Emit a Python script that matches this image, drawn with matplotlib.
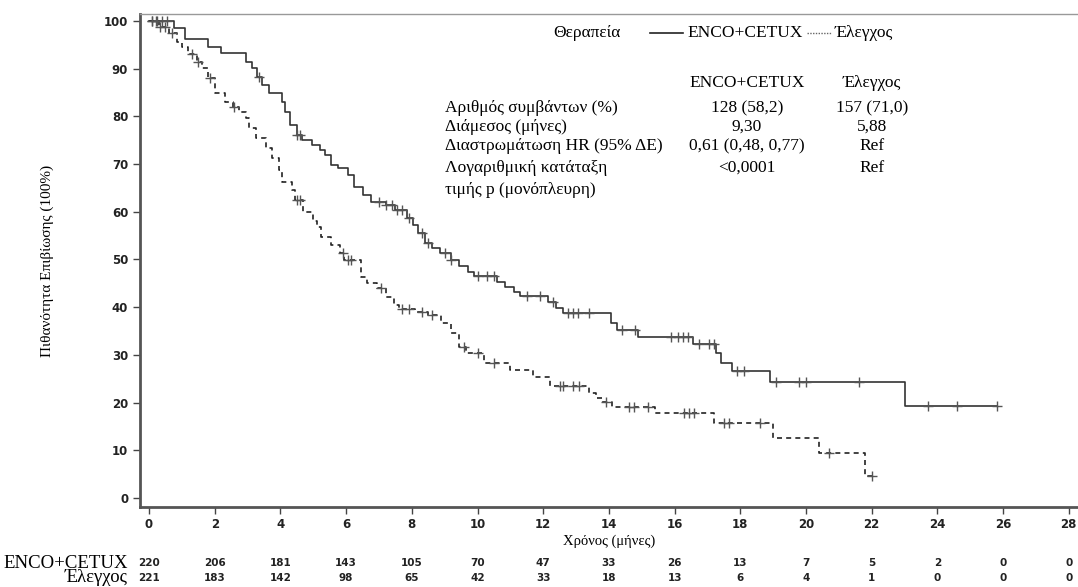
import matplotlib
matplotlib.use("Agg")
import matplotlib.pyplot as plt
from matplotlib.lines import Line2D
import numpy as np

# Kaplan-Meier steps (time in months, survival %)
ENCO_T = [0, 0.75, 1.1, 1.8, 2.2, 2.95, 3.15, 3.3, 3.45, 3.65, 4.05, 4.15, 4.3, 4.5,
          4.65, 4.95, 5.2, 5.35, 5.55, 5.75, 6.05, 6.25, 6.5, 6.75, 7.2, 7.5, 7.85,
          8.05, 8.2, 8.4, 8.6, 8.85, 9.2, 9.45, 9.7, 9.9, 10.6, 10.85, 11.1, 11.3,
          12.15, 12.4, 12.6, 14.05, 14.25, 14.9, 16.55, 17.25, 17.4, 17.75, 18.9,
          23.0, 25.8]
ENCO_S = [100, 98.5, 96.2, 94.5, 93.3, 91.4, 90.1, 88.3, 86.6, 84.9, 83.0, 80.9,
          78.2, 76.1, 75.0, 74.0, 73.0, 71.9, 69.8, 69.2, 67.7, 65.2, 63.5, 62.0,
          61.4, 60.4, 58.7, 57.2, 55.6, 53.5, 52.4, 51.4, 49.9, 48.6, 47.4, 46.5,
          45.3, 44.2, 43.2, 42.4, 41.1, 39.8, 38.8, 36.7, 35.2, 33.8, 32.3, 30.5,
          28.3, 26.6, 24.3, 19.3, 19.3]
ENCO_CENS = [0.1, 0.25, 0.4, 0.55, 3.35, 4.5, 4.6, 7.0, 7.2, 7.4, 7.55, 7.7, 7.9,
             8.3, 8.5, 9.0, 9.2, 10.0, 10.3, 10.5, 11.5, 11.9, 12.3, 12.75, 12.9,
             13.05, 13.4, 14.4, 14.8, 15.9, 16.1, 16.25, 16.4, 16.75, 17.05, 17.2,
             17.9, 18.1, 19.1, 19.8, 20.0, 21.6, 23.7, 24.6, 25.8]

CTRL_T = [0, 0.3, 0.6, 0.85, 1.0, 1.2, 1.45, 1.6, 1.8, 2.0, 2.3, 2.55, 2.75, 2.95,
          3.05, 3.25, 3.55, 3.75, 3.95, 4.05, 4.35, 4.45, 4.7, 5.0, 5.1, 5.25, 5.55,
          5.8, 5.95, 6.45, 6.65, 6.95, 7.2, 7.45, 7.6, 8.1, 8.5, 8.9, 9.2, 9.45,
          9.65, 10.2, 11.0, 11.7, 12.2, 13.4, 13.6, 13.8, 14.1, 15.4, 17.2, 19.0,
          20.4, 21.8, 22.0]
CTRL_S = [100, 98.8, 97.5, 95.5, 94.5, 93.0, 91.4, 90.1, 88.0, 85.0, 83.0, 82.0,
          81.0, 79.7, 77.6, 75.5, 73.4, 71.3, 68.8, 66.2, 64.6, 62.5, 60.0, 58.0,
          56.8, 54.7, 53.0, 51.4, 49.8, 46.3, 45.0, 44.0, 42.1, 40.5, 39.6, 39.0,
          38.4, 36.7, 34.6, 31.7, 30.4, 28.3, 26.8, 25.3, 23.5, 22.0, 21.0, 20.1,
          19.1, 17.8, 15.7, 12.6, 9.4, 4.6, 4.6]
CTRL_CENS = [0.1, 0.2, 0.35, 0.5, 0.7, 1.3, 1.5, 1.85, 2.6, 4.5, 4.6, 5.9, 6.05,
             6.15, 7.05, 7.7, 7.9, 8.3, 8.6, 9.6, 10.0, 10.5, 12.5, 12.6, 12.9,
             13.1, 13.9, 14.6, 14.75, 15.2, 16.3, 16.45, 16.6, 17.5, 17.65, 18.6,
             20.7, 22.0]

RISK_TIMES = list(range(0, 29, 2))
RISK_ENCO = [220, 206, 181, 143, 105, 70, 47, 33, 26, 13, 7, 5, 2, 0, 0]
RISK_CTRL = [221, 183, 142, 98, 65, 42, 33, 18, 13, 6, 4, 1, 0, 0, 0]

TABLE_ROWS = ['Αριθμός συμβάντων (%)', 'Διάμεσος (μήνες)',
              'Διαστρωμάτωση HR (95% ΔΕ)', 'Λογαριθμική κατάταξη']
TABLE_ENCO = ['128 (58,2)', '9,30', '0,61 (0,48, 0,77)', '<0,0001']
TABLE_CTRL = ['157 (71,0)', '5,88', 'Ref', 'Ref']

W, H = 1078, 587
SERIF = ['Liberation Serif', 'DejaVu Serif']
FS = 12.5


def step_value(t, ts, ss):
    idx = np.searchsorted(ts, t, side='right') - 1
    return np.array(ss)[idx]


def fx(px):
    return px / W


def fy(py):
    return 1 - py / H


fig = plt.figure(figsize=(W / 100, H / 100), dpi=100)
ax = fig.add_axes([fx(140), fy(507), fx(1078) - fx(140), fy(14) - fy(507)])

ax.plot(ENCO_T, ENCO_S, drawstyle='steps-post', color='#333333', lw=1.2)
ax.plot(CTRL_T, CTRL_S, drawstyle='steps-post', color='#222222', lw=1.2,
        dashes=(3, 2.5))
ax.plot(ENCO_CENS, step_value(ENCO_CENS, ENCO_T, ENCO_S), '+', color='#555555',
        ms=7, mew=1)
ax.plot(CTRL_CENS, step_value(CTRL_CENS, CTRL_T, CTRL_S), '+', color='#555555',
        ms=7, mew=1)

ax.set_xlim(-0.274, 28.28)
ax.set_ylim(-1.89, 101.47)
ax.set_xticks(RISK_TIMES)
ax.set_yticks(range(0, 101, 10))
ax.tick_params(direction='out', length=5, width=1, color='#444444',
               labelsize=8.5, labelcolor='#222222')
for lab in ax.get_xticklabels() + ax.get_yticklabels():
    lab.set_fontweight('bold')
ax.tick_params(axis='x', pad=3)

for side in ['left', 'bottom']:
    ax.spines[side].set_linewidth(2)
    ax.spines[side].set_color('#555555')
ax.spines['top'].set_linewidth(1)
ax.spines['top'].set_color('#999999')
ax.spines['right'].set_visible(False)

ax.set_ylabel('Πιθανότητα Επιβίωσης (100%)', family=SERIF, fontsize=11,
              labelpad=36)
ax.text(0.5, -0.07, 'Χρόνος (μήνες)', transform=ax.transAxes, ha='center',
        va='center', family=SERIF, fontsize=10.5)

# number at risk
trans = ax.get_xaxis_transform()
for t, a, b in zip(RISK_TIMES, RISK_ENCO, RISK_CTRL):
    ax.text(t, -0.1136, str(a), transform=trans, ha='center', va='center',
            fontsize=7.5, fontweight='bold', color='#222222')
    ax.text(t, -0.144, str(b), transform=trans, ha='center', va='center',
            fontsize=7.5, fontweight='bold', color='#222222')
fig.text(fx(128), fy(563), 'ENCO+CETUX', ha='right', va='center', family=SERIF,
         fontsize=13.5)
fig.text(fx(128), fy(578), 'Έλεγχος', ha='right', va='center', family=SERIF,
         fontsize=13.5)

# legend
fig.text(fx(553), fy(33), 'Θεραπεία', ha='left', va='center', family=SERIF,
         fontsize=FS)
fig.add_artist(Line2D([fx(650), fx(683)], [fy(33), fy(33)], color='#222222',
                      lw=1.2))
fig.text(fx(687), fy(33), 'ENCO+CETUX', ha='left', va='center', family=SERIF,
         fontsize=FS)
fig.add_artist(Line2D([fx(807), fx(832)], [fy(33), fy(33)], color='#666666',
                      lw=1, dashes=(1, 1)))
fig.text(fx(835), fy(33), 'Έλεγχος', ha='left', va='center', family=SERIF,
         fontsize=FS)

# summary table
fig.text(fx(747), fy(83), 'ENCO+CETUX', ha='center', va='center', family=SERIF,
         fontsize=FS)
fig.text(fx(872), fy(83), 'Έλεγχος', ha='center', va='center', family=SERIF,
         fontsize=FS)
for i, (r, a, b) in enumerate(zip(TABLE_ROWS, TABLE_ENCO, TABLE_CTRL)):
    y = [108, 127, 146, 168][i]
    fig.text(fx(445), fy(y), r, ha='left', va='center', family=SERIF,
             fontsize=FS)
    fig.text(fx(747), fy(y), a, ha='center', va='center', family=SERIF,
             fontsize=FS)
    fig.text(fx(872), fy(y), b, ha='center', va='center', family=SERIF,
             fontsize=FS)
fig.text(fx(445), fy(190), 'τιμής p (μονόπλευρη)', ha='left', va='center',
         family=SERIF, fontsize=FS)

fig.savefig('out.png', dpi=100)
